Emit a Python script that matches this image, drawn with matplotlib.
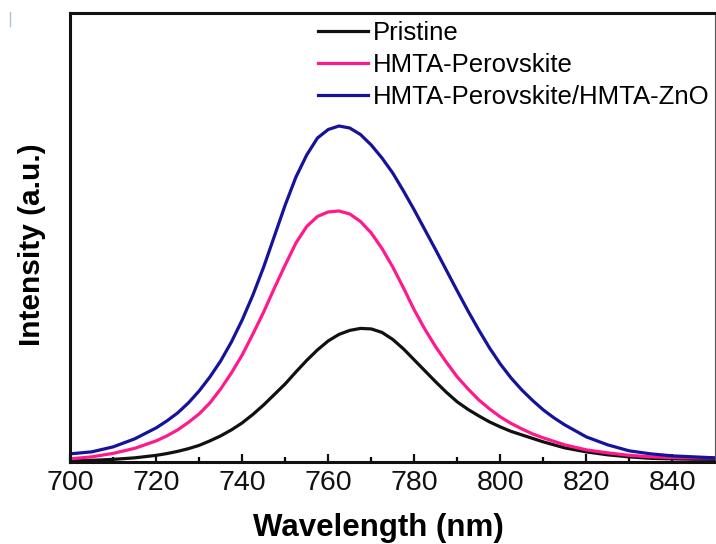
"""Plot PL spectra of pristine and HMTA-treated perovskite films."""

import matplotlib

matplotlib.use("Agg")
import matplotlib.pyplot as plt
from matplotlib.lines import Line2D
from matplotlib.ticker import MultipleLocator


WAVELENGTH = [
    700, 705, 710, 715,
    720, 722.5, 725, 727.5, 730, 732.5, 735, 737.5, 740, 742.5,
    745, 747.5, 750, 752.5, 755, 757.5, 760, 762.5, 765, 767.5,
    770, 772.5, 775, 777.5, 780, 782.5, 785, 787.5, 790, 792.5,
    795, 797.5, 800, 802.5, 805, 807.5, 810, 812.5, 815,
    820, 825, 830, 835, 840, 845, 850,
]
PRISTINE = [
    1, 1.5, 2.5, 4,
    6.5, 8.3, 10.5, 13.2, 16.5, 21, 26, 32, 39, 47.5,
    57, 67.5, 78, 90, 101.5, 112, 121, 127.5, 131.5, 133.5,
    133, 129.5, 122.5, 113, 102, 91, 80, 69.5, 60, 52.5,
    46, 40, 35, 30.5, 27, 23.5, 20, 17, 14,
    10, 7, 5, 3.5, 3, 2.6, 2.5,
]
HMTA_PEROVSKITE = [
    3, 5, 8.5, 13.5,
    21, 26, 32, 39.5, 48, 59, 73, 89, 107, 128,
    150, 174, 197, 219, 235.5, 245.5, 250, 251, 248, 240.5,
    229, 213.5, 195, 174, 152, 132.5, 115, 99.5, 85, 73,
    62, 53, 45, 38.5, 33, 28, 24, 20.5, 17,
    12, 9, 6.5, 5, 4.3, 4, 4,
]
HMTA_PEROVSKITE_ZNO = [
    8, 10, 15, 23,
    34, 41, 49, 59, 71, 85, 101, 120, 142, 167,
    195, 226, 257, 285, 307, 324, 332.5, 336, 334, 327.5,
    317, 304, 289, 271, 252, 232, 212, 191.5, 171, 151,
    132, 114, 98, 84, 72, 61.5, 52, 44, 37,
    25, 17, 11, 8, 6, 5, 4,
]

SERIES = [
    ("Pristine", PRISTINE, "#111111"),
    ("HMTA-Perovskite", HMTA_PEROVSKITE, "#ff1a8c"),
    ("HMTA-Perovskite/HMTA-ZnO", HMTA_PEROVSKITE_ZNO, "#15129c"),
]
X_TICKS = [700, 720, 740, 760, 780, 800, 820, 840]


def main() -> None:
    """Render the spectra figure to out.png."""
    plt.rcParams["font.family"] = ["Liberation Sans", "DejaVu Sans"]

    fig = plt.figure(figsize=(7.16, 5.44), dpi=100)
    ax = fig.add_axes([0.098, 0.151, 0.901, 0.825])

    for label, values, color in SERIES:
        ax.plot(WAVELENGTH, values, color=color, linewidth=2.3, label=label,
                solid_joinstyle="round")

    ax.set_xlim(700, 850)
    ax.set_ylim(0, 449)
    ax.set_xticks(X_TICKS)
    ax.xaxis.set_minor_locator(MultipleLocator(10))
    ax.set_yticks([])
    ax.tick_params(axis="x", which="major", direction="in", length=6, width=1.6,
                   labelsize=20.5, pad=6, colors="#111111")
    ax.tick_params(axis="x", which="minor", direction="in", length=3.5, width=1.6)

    for side in ("left", "bottom", "top"):
        ax.spines[side].set_linewidth(2.2)
        ax.spines[side].set_color("#111111")
    ax.spines["right"].set_linewidth(0.8)
    ax.spines["right"].set_color("#555555")

    ax.set_xlabel("Wavelength (nm)", fontsize=22.5, fontweight="bold")
    ax.xaxis.set_label_coords(0.478, -0.115)
    ax.set_ylabel("Intensity (a.u.)", fontsize=21.5, fontweight="bold")
    ax.yaxis.set_label_coords(-0.038, 0.483)

    ax.legend(loc="upper left", bbox_to_anchor=(0.368, 1.005), frameon=False,
              fontsize=18.5, handlelength=1.95, handletextpad=0.2, labelspacing=0.3,
              borderaxespad=0.0)

    # faint stray mark in the top-left corner of the original scan
    fig.add_artist(Line2D([0.0145, 0.0145], [0.952, 0.978], color="#a9c4e0", linewidth=1.0))

    fig.savefig("out.png", dpi=100)
    plt.close(fig)


if __name__ == "__main__":
    main()
